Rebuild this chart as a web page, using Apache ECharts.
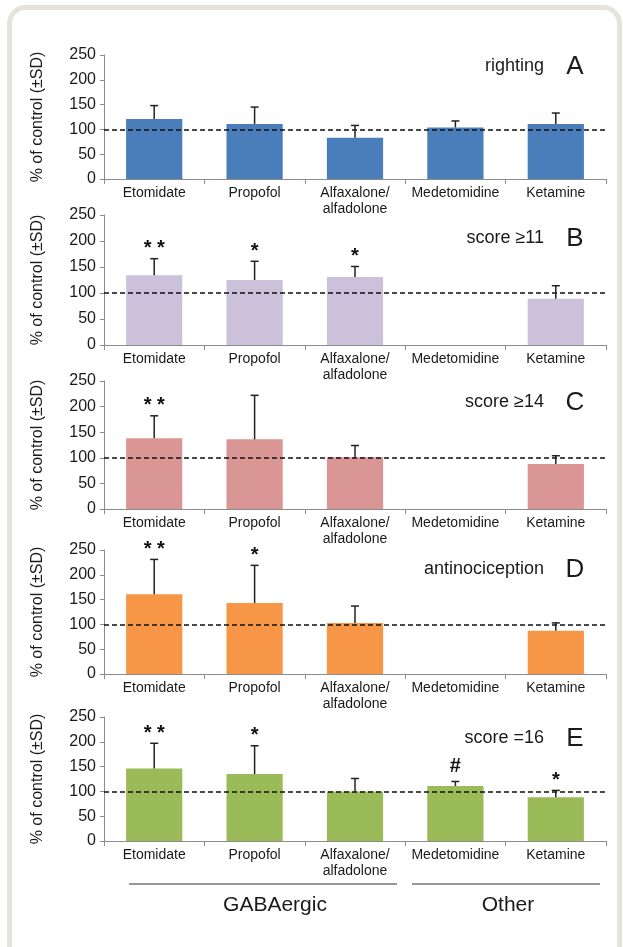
<!DOCTYPE html>
<html>
<head>
<meta charset="utf-8">
<script src="https://cdn.jsdelivr.net/npm/echarts@6/dist/echarts.min.js"></script>
<style>
html,body{margin:0;padding:0;background:#fff;}
#chart{width:623px;height:947px;}
</style>
</head>
<body>
<div id="chart"></div>
<script>
// ---- data ----
const categories = ['Etomidate', 'Propofol', 'Alfaxalone/\nalfadolone', 'Medetomidine', 'Ketamine'];
const yTickMin = 0, yTickMax = 250, yTickStep = 50;
const referenceLevel = 100;

const valuesA = [121, 111, 83, 104, 111];
const sdA     = [27, 34, 25, 13, 22];
const marksA  = ['', '', '', '', ''];

const valuesB = [134, 125, 131, null, 89];
const sdB     = [32, 36, 20, null, 25];
const marksB  = ['* *', '*', '*', '', ''];

const valuesC = [138, 136, 101, null, 88];
const sdC     = [44, 86, 23, null, 16];
const marksC  = ['* *', '', '', '', ''];

const valuesD = [161, 143, 103, null, 87];
const sdD     = [70, 76, 34, null, 16];
const marksD  = ['* *', '*', '', '', ''];

const valuesE = [146, 135, 100, 111, 88];
const sdE     = [51, 57, 26, 9, 14];
const marksE  = ['* *', '*', '', '#', '*'];

const panelTitles  = ['righting', 'score \u226511', 'score \u226514', 'antinociception', 'score =16'];
const panelLetters = ['A', 'B', 'C', 'D', 'E'];
const groupNames   = ['GABAergic', 'Other'];
const yAxisTitle   = '% of control (\u00b1SD)';

// ---- layout / style ----
const barColors  = ['#4a7ebb', '#ccc1da', '#d99694', '#f79646', '#9bbb59'];
const gridTops    = [55, 215, 381, 550, 717];
const gridHeights = [124, 130, 128, 124, 124];
const titleY      = [66, 238, 402, 569, 738];
const FONT = '"Liberation Sans", Arial, sans-serif';

const panels = [
  {v: valuesA, sd: sdA, m: marksA},
  {v: valuesB, sd: sdB, m: marksB},
  {v: valuesC, sd: sdC, m: marksC},
  {v: valuesD, sd: sdD, m: marksD},
  {v: valuesE, sd: sdE, m: marksE}
];

const grids = [], xAxes = [], yAxes = [], series = [], graphics = [];

graphics.push({
  type: 'rect', z: -10, silent: true,
  shape: {x: 9.5, y: 7.5, width: 610, height: 1000, r: 16},
  style: {fill: '#fff', stroke: '#e5e3dc', lineWidth: 5}
});

panels.forEach((p, i) => {
  grids.push({left: 104, right: 17, top: gridTops[i], height: gridHeights[i]});
  xAxes.push({
    type: 'category', gridIndex: i, data: categories,
    axisLine: {lineStyle: {color: '#8c8c8c', width: 1}},
    axisTick: {show: true, length: 5, lineStyle: {color: '#8c8c8c'}},
    axisLabel: {color: '#1a1a1a', fontSize: 14, fontFamily: FONT, margin: 6, lineHeight: 16, interval: 0}
  });
  yAxes.push({
    type: 'value', gridIndex: i, min: yTickMin, max: yTickMax, interval: yTickStep,
    name: yAxisTitle, nameLocation: 'middle', nameGap: 58,
    nameTextStyle: {color: '#1a1a1a', fontSize: 16, fontFamily: FONT},
    axisLine: {show: true, lineStyle: {color: '#8c8c8c', width: 1}},
    axisTick: {show: true, length: 4, lineStyle: {color: '#8c8c8c'}},
    axisLabel: {color: '#1a1a1a', fontSize: 16, fontFamily: FONT, margin: 8},
    splitLine: {show: false}
  });
  series.push({
    type: 'bar', xAxisIndex: i, yAxisIndex: i, data: p.v,
    barWidth: '56%',
    itemStyle: {color: barColors[i]},
    markLine: {
      silent: true, symbol: ['none', 'none'], label: {show: false},
      lineStyle: {color: '#111', type: [5, 3], width: 1.5},
      data: [{yAxis: referenceLevel}]
    }
  });
  const errData = [];
  const errMarks = [];
  p.v.forEach((val, j) => {
    if (val == null) return;
    errData.push([j, val, val + p.sd[j]]);
    errMarks.push(p.m[j]);
  });
  series.push({
    type: 'custom', xAxisIndex: i, yAxisIndex: i, data: errData, z: 5,
    renderItem: (params, api) => {
      const x = api.value(0), v = api.value(1), top = api.value(2);
      const p0 = api.coord([x, v]);
      const p1 = api.coord([x, top]);
      const cap = 4;
      const children = [
        {type: 'line', shape: {x1: p0[0], y1: p0[1], x2: p1[0], y2: p1[1]}, style: {stroke: '#222', lineWidth: 1.5}},
        {type: 'line', shape: {x1: p1[0] - cap, y1: p1[1], x2: p1[0] + cap, y2: p1[1]}, style: {stroke: '#222', lineWidth: 1.5}}
      ];
      const mk = errMarks[params.dataIndex];
      if (mk) {
        const off = mk.indexOf('#') >= 0 ? 15 : 10;
        children.push({
          type: 'text',
          style: {text: mk, x: p1[0], y: p1[1] - off, align: 'center', verticalAlign: 'middle',
                  font: 'bold 20px ' + FONT, fill: '#111'}
        });
      }
      return {type: 'group', children: children};
    }
  });
  graphics.push({
    type: 'text', silent: true,
    style: {text: panelTitles[i], x: 544, y: titleY[i], align: 'right', verticalAlign: 'middle',
            font: '18px ' + FONT, fill: '#1a1a1a'}
  });
  graphics.push({
    type: 'text', silent: true,
    style: {text: panelLetters[i], x: 575, y: titleY[i] + 1, align: 'center', verticalAlign: 'middle',
            font: '26px ' + FONT, fill: '#1a1a1a'}
  });
});

// group brackets below the last panel
graphics.push({type: 'line', silent: true, shape: {x1: 129, y1: 884, x2: 397, y2: 884}, style: {stroke: '#333', lineWidth: 1.2}});
graphics.push({type: 'line', silent: true, shape: {x1: 412, y1: 884, x2: 600, y2: 884}, style: {stroke: '#333', lineWidth: 1.2}});
graphics.push({type: 'text', silent: true, style: {text: groupNames[0], x: 275, y: 905, align: 'center', verticalAlign: 'middle', font: '21px ' + FONT, fill: '#1a1a1a'}});
graphics.push({type: 'text', silent: true, style: {text: groupNames[1], x: 508, y: 905, align: 'center', verticalAlign: 'middle', font: '21px ' + FONT, fill: '#1a1a1a'}});

const chart = echarts.init(document.getElementById('chart'), null, {renderer: 'canvas'});
chart.setOption({
  animation: false,
  backgroundColor: '#fff',
  textStyle: {fontFamily: FONT},
  grid: grids,
  xAxis: xAxes,
  yAxis: yAxes,
  series: series,
  graphic: graphics
});
</script>
</body>
</html>
